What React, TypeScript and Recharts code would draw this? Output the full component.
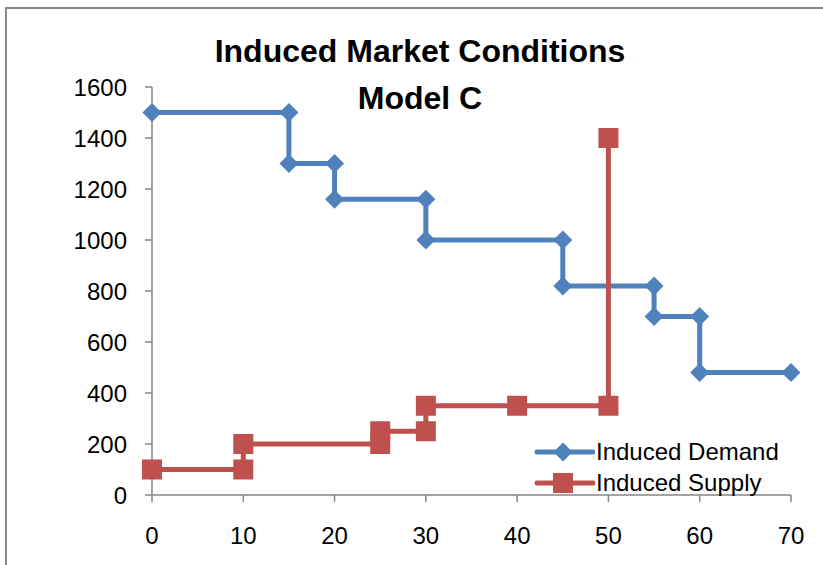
import React from 'react';
import { ScatterChart, Scatter, XAxis, YAxis } from 'recharts';

// step points
const demandX = [0, 15, 15, 20, 20, 30, 30, 45, 45, 55, 55, 60, 60, 70];
const demandY = [1500, 1500, 1300, 1300, 1160, 1160, 1000, 1000, 820, 820, 700, 700, 480, 480];
const supplyX = [0, 10, 10, 25, 25, 30, 30, 40, 50, 50];
const supplyY = [100, 100, 200, 200, 250, 250, 350, 350, 350, 1400];

const xTicks = [0, 10, 20, 30, 40, 50, 60, 70];
const yTicks = [0, 200, 400, 600, 800, 1000, 1200, 1400, 1600];

const titleLines = ['Induced Market Conditions', 'Model C'];
const seriesNames = ['Induced Demand', 'Induced Supply'];

const BLUE = '#4F81BD';
const RED = '#C0504D';
const FONT = '"Liberation Sans", Arial, sans-serif';

const demand = demandX.map((x, i) => ({ x, y: demandY[i] }));
const supply = supplyX.map((x, i) => ({ x, y: supplyY[i] }));

const Diamond = (props: any) => {
  const { cx, cy } = props;
  const r = 9.5;
  return <polygon points={`${cx},${cy - r} ${cx + r},${cy} ${cx},${cy + r} ${cx - r},${cy}`} fill={BLUE} />;
};

const Square = (props: any) => {
  const { cx, cy } = props;
  const s = 20;
  return <rect x={cx - s / 2} y={cy - s / 2} width={s} height={s} fill={RED} />;
};

// legend drawn as an overlay so it doesn't eat into the plot area
const LegendBox = () => (
  <div style={{ position: 'absolute', left: 533, top: 436, fontFamily: FONT, fontSize: 24, color: '#000' }}>
    {seriesNames.map((name, i) => (
      <div key={name} style={{ display: 'flex', alignItems: 'center', height: 31 }}>
        <svg width={62} height={24} style={{ marginRight: 1 }}>
          <line x1={4} y1={12} x2={60} y2={12} stroke={i === 0 ? BLUE : RED} strokeWidth={5} strokeLinecap="round" />
          {i === 0 ? <Diamond cx={30} cy={12} /> : <Square cx={30} cy={12} />}
        </svg>
        <span style={{ whiteSpace: 'nowrap' }}>{name}</span>
      </div>
    ))}
  </div>
);

export default function App() {
  return (
    <div style={{ position: 'absolute', left: 0, top: 0, width: 823, height: 565, background: '#fff' }}>
      <div style={{ position: 'absolute', left: 5, top: 7, width: 816, height: 556, borderLeft: '2px solid #8a8a8a', borderTop: '2px solid #8a8a8a' }} />
      <div style={{ position: 'absolute', left: 120, top: 28, width: 600, textAlign: 'center', fontFamily: FONT, fontWeight: 'bold', fontSize: 32, lineHeight: '47px', color: '#000' }}>
        {titleLines.map((t) => (
          <div key={t}>{t}</div>
        ))}
      </div>
      <ScatterChart width={823} height={565} margin={{ top: 87, right: 32, bottom: 10, left: 72 }}>
        <XAxis
          type="number"
          dataKey="x"
          domain={[0, 70]}
          ticks={xTicks}
          height={60}
          tickSize={7}
          tickMargin={25}
          stroke="#868686"
          strokeWidth={1.5}
          tick={{ fill: '#000', fontSize: 24, fontFamily: FONT }}
        />
        <YAxis
          type="number"
          dataKey="y"
          domain={[0, 1600]}
          ticks={yTicks}
          width={80}
          tickSize={7}
          tickMargin={18}
          stroke="#868686"
          strokeWidth={1.5}
          tick={{ fill: '#000', fontSize: 24, fontFamily: FONT }}
        />
        <Scatter
          name={seriesNames[0]}
          data={demand}
          fill={BLUE}
          line={{ stroke: BLUE, strokeWidth: 5 }}
          lineType="joint"
          shape={Diamond}
          isAnimationActive={false}
        />
        <Scatter
          name={seriesNames[1]}
          data={supply}
          fill={RED}
          line={{ stroke: RED, strokeWidth: 5 }}
          lineType="joint"
          shape={Square}
          isAnimationActive={false}
        />
      </ScatterChart>
      <LegendBox />
    </div>
  );
}
